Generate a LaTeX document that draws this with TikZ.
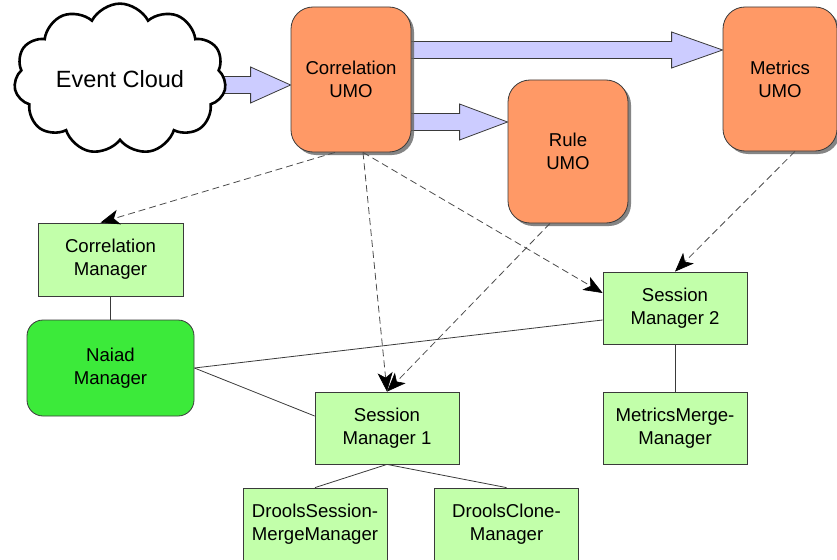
\documentclass[tikz,border=0pt]{standalone}
\usepackage{fontspec}
\setmainfont{Liberation Sans}
\usetikzlibrary{shapes.symbols,shadows,arrows.meta,calc,backgrounds}

\definecolor{umo}{HTML}{FF9966}
\definecolor{mgr}{HTML}{C2FFAA}
\definecolor{naiad}{HTML}{3CEA3A}
\definecolor{flow}{HTML}{CCCCFF}
\definecolor{edge}{HTML}{3A3A3A}

% broad outlined arrow: start, tip, head length
\newcommand\fatarrow[3]{%
  \draw[fatarrow] ($(#1)+(0,-8.5)$) -- ($(#2)+(-#3,-8.5)$) -- ($(#2)+(-#3,-18)$)
    -- (#2) -- ($(#2)+(-#3,18)$) -- ($(#2)+(-#3,8.5)$) -- ($(#1)+(0,8.5)$) -- cycle;}

\begin{document}
\begin{tikzpicture}[x=1pt,y=-1pt,
  every node/.style={font=\fontsize{18.6}{23}\selectfont, align=center, inner sep=0pt},
  umobox/.style={draw=edge, line width=0.8pt, fill=umo, rounded corners=22pt,
    minimum width=120pt, minimum height=145pt,
    drop shadow={shadow xshift=3pt, shadow yshift=-3pt, fill=black!60, opacity=0.8}},
  mgrbox/.style={draw=edge, line width=0.8pt, fill=mgr, minimum width=144pt, minimum height=72pt},
  naiadbox/.style={draw=edge, line width=0.8pt, fill=naiad, rounded corners=16pt,
    minimum width=167pt, minimum height=96pt},
  fatarrow/.style={draw=edge, line width=0.8pt, fill=flow},
  uses/.style={draw=black!70, line width=0.8pt, dash pattern=on 7pt off 4pt,
    -{Stealth[length=19pt, width=15pt, inset=5pt, fill=black, black, line width=0.6pt]}},
  link/.style={draw=edge, line width=0.8pt}
]
\useasboundingbox (0,0) rectangle (837,559);

% event source
\node[cloud, draw=black, line width=2.6pt, fill=white, cloud puffs=11, cloud puff arc=125,
  aspect=1.45, minimum width=212pt, minimum height=144pt] (cloud) at (120,79)
  {\fontsize{23.5}{28}\selectfont Event Cloud};

% UMO services
\node[umobox] (corr) at (351,79.5) {Correlation\\UMO};
\node[umobox, minimum height=143pt] (rule) at (568,151.5) {Rule\\UMO};
\node[umobox, minimum width=114pt, minimum height=144pt] (metrics) at (780,79) {Metrics\\UMO};

% managers
\node[mgrbox, minimum width=145pt, minimum height=73pt] (cmgr) at (110.5,259.5) {Correlation\\Manager};
\node[naiadbox] (naiad) at (110.5,368) {Naiad\\Manager};
\node[mgrbox] (sm1) at (387,428) {Session\\Manager 1};
\node[mgrbox] (sm2) at (675,308) {Session\\Manager 2};
\node[mgrbox] (mmm) at (675,428) {MetricsMerge-\\Manager};
\node[mgrbox] (dsm) at (315,524) {DroolsSession-\\MergeManager};
\node[mgrbox] (dcm) at (506.5,524) {DroolsClone-\\Manager};

% event flow
\coordinate (f1s) at (200,85);
\coordinate (f1t) at (corr.west |- f1s);
\coordinate (f2s) at (351,122);
\coordinate (f2t) at (rule.west |- f2s);
\coordinate (f3s) at (351,50);
\coordinate (f3t) at (metrics.west |- f3s);
\begin{pgfonlayer}{background}
  \fatarrow{f1s}{f1t}{40}
  \fatarrow{f2s}{f2t}{48}
  \fatarrow{f3s}{f3t}{51}
\end{pgfonlayer}

% dependencies
\draw[uses] ([xshift=-16pt]corr.south) -- ([xshift=-10pt]cmgr.north);
\draw[uses] ([xshift=12pt]corr.south) -- (sm1.north);
\draw[uses] ([xshift=12pt]corr.south) -- ([yshift=15pt]sm2.west);
\draw[uses] ([xshift=-18pt]rule.south) -- (sm1.north);
\draw[uses] ([xshift=15pt]metrics.south) -- (sm2.north);

% composition
\draw[link] (cmgr.south) -- (naiad.north);
\draw[link] (naiad.east) -- ([yshift=-12pt]sm2.west);
\draw[link] (naiad.east) -- ([yshift=12pt]sm1.west);
\draw[link] (sm1.south) -- (dsm.north);
\draw[link] (sm1.south) -- (dcm.north);
\draw[link] (sm2.south) -- (mmm.north);
\end{tikzpicture}
\end{document}
